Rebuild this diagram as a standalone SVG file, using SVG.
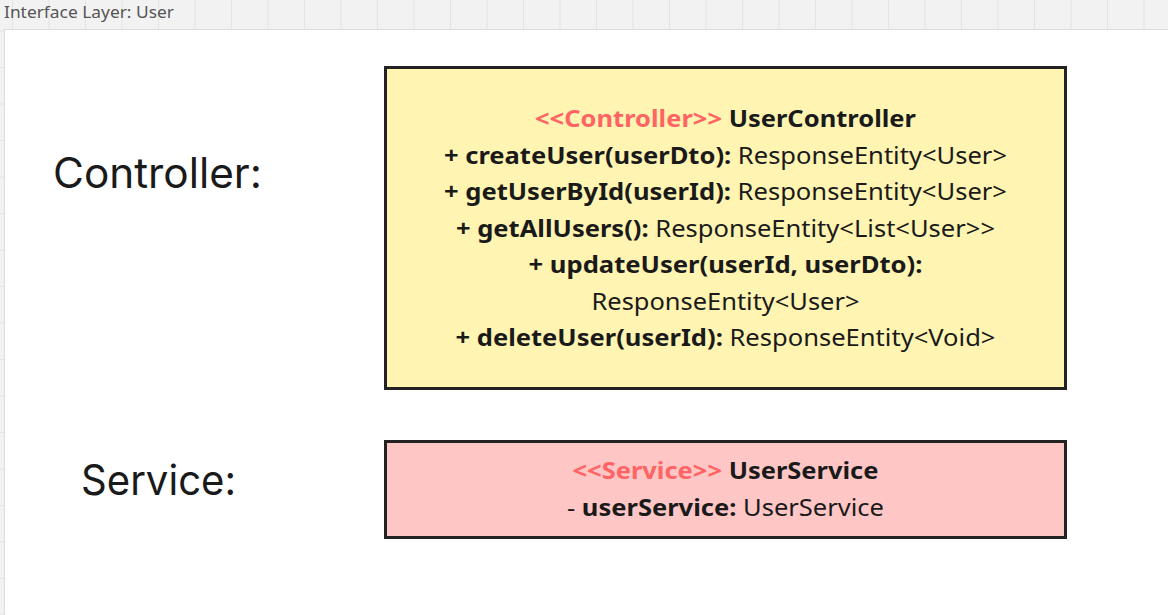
<svg xmlns="http://www.w3.org/2000/svg" width="1168" height="615" viewBox="0 0 1168 615">
<defs>
<pattern id="gridV" x="12" y="0" width="36.5" height="615" patternUnits="userSpaceOnUse">
<line x1="0.5" y1="0" x2="0.5" y2="615" stroke="#e4e4e4" stroke-width="1"/>
</pattern>
<pattern id="gridH" x="0" y="30.5" width="1168" height="36.5" patternUnits="userSpaceOnUse">
<line x1="0" y1="0.5" x2="1168" y2="0.5" stroke="#e4e4e4" stroke-width="1"/>
</pattern>
</defs>
<style>
.box{stroke:#222;stroke-width:3}
.t{font-family:"Noto Sans","Open Sans",sans-serif;font-size:24px;fill:#1a1a1a;text-anchor:middle}
.b{font-weight:bold}
.st{fill:#ff6464;font-weight:bold}
.lbl{font-family:Inter,"Liberation Sans",sans-serif;font-size:42px;fill:#1a1a1a}
</style>
<rect width="1168" height="615" fill="#f2f2f2"/>
<rect width="1168" height="615" fill="url(#gridV)"/>
<rect width="1168" height="615" fill="url(#gridH)"/>
<text x="4" y="17.5" font-family="Noto Sans, sans-serif" font-size="17" fill="#555" textLength="170" lengthAdjust="spacingAndGlyphs">Interface Layer: User</text>
<rect x="4.5" y="29.5" width="1168" height="600" fill="#fff" stroke="#dcdcdc" stroke-width="1"/>
<g id="label-controller"><text class="lbl" x="53" y="188" textLength="209" lengthAdjust="spacingAndGlyphs">Controller:</text></g>
<g id="label-service"><text class="lbl" x="81" y="495" textLength="155" lengthAdjust="spacingAndGlyphs">Service:</text></g>
<g id="UserController">
<rect class="box" x="385.5" y="67.5" width="680" height="321" fill="#fff4b1"/>
<text class="t" x="725.5" y="127" textLength="381" lengthAdjust="spacingAndGlyphs"><tspan class="st">&lt;&lt;Controller&gt;&gt;</tspan><tspan class="b"> UserController</tspan></text>
<text class="t" x="725.5" y="164" textLength="563" lengthAdjust="spacingAndGlyphs"><tspan class="b">+ createUser(userDto):</tspan> ResponseEntity&lt;User&gt;</text>
<text class="t" x="725.5" y="200" textLength="563" lengthAdjust="spacingAndGlyphs"><tspan class="b">+ getUserById(userId):</tspan> ResponseEntity&lt;User&gt;</text>
<text class="t" x="725.5" y="237" textLength="539" lengthAdjust="spacingAndGlyphs"><tspan class="b">+ getAllUsers():</tspan> ResponseEntity&lt;List&lt;User&gt;&gt;</text>
<text class="t" x="725.5" y="273" textLength="394" lengthAdjust="spacingAndGlyphs"><tspan class="b">+ updateUser(userId, userDto):</tspan></text>
<text class="t" x="725.5" y="310" textLength="268" lengthAdjust="spacingAndGlyphs">ResponseEntity&lt;User&gt;</text>
<text class="t" x="725.5" y="346" textLength="540" lengthAdjust="spacingAndGlyphs"><tspan class="b">+ deleteUser(userId):</tspan> ResponseEntity&lt;Void&gt;</text>
</g>
<g id="UserService">
<rect class="box" x="385.5" y="441.5" width="680" height="96" fill="#ffc6c6"/>
<text class="t" x="725.5" y="479" textLength="306" lengthAdjust="spacingAndGlyphs"><tspan class="st">&lt;&lt;Service&gt;&gt;</tspan><tspan class="b"> UserService</tspan></text>
<text class="t" x="725.5" y="516" textLength="317" lengthAdjust="spacingAndGlyphs">- <tspan class="b">userService:</tspan> UserService</text>
</g>
<g id="connectors"/>
</svg>
